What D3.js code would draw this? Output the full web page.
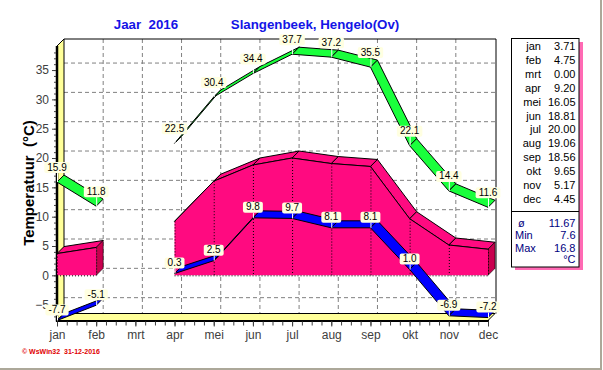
<!DOCTYPE html>
<html>
<head>
<meta charset="utf-8">
<script src="https://cdn.jsdelivr.net/npm/d3@7"></script>
<style>
  body { margin: 0; background: #fff; }
  svg { display: block; font-family: Arial, "Liberation Sans", sans-serif; }
</style>
</head>
<body>
<div id="chart"></div>
<script>
const months = ['jan', 'feb', 'mrt', 'apr', 'mei', 'jun', 'jul', 'aug', 'sep', 'okt', 'nov', 'dec']
const meanTemp = [3.71, 4.75, null, 9.20, 16.05, 18.81, 20.00, 19.06, 18.56, 9.65, 5.17, 4.45]
const maxTemp = [15.9, 11.8, null, 22.5, 30.4, 34.4, 37.7, 37.2, 35.5, 22.1, 14.4, 11.6]
const minTemp = [-7.7, -5.1, null, 0.3, 2.5, 9.8, 9.7, 8.1, 8.1, 1.0, -6.9, -7.2]
const yTicks = [-5, 0, 5, 10, 15, 20, 25, 30, 35]
const statNames = ['ø', 'Min', 'Max']
const statValues = ['11.67', '7.6', '16.8']

const width = 603
const height = 370
const dx = 7, dy = -7

const svg = d3.select('#chart').append('svg')
  .attr('width', width)
  .attr('height', height)

const x = d3.scalePoint().domain(months).range([57, 488])
const xi = d3.scaleLinear().domain([0, 11]).range([57, 488])
const y = d3.scaleLinear().domain([-7.7, 39.1]).range([320.5, 46])
const y0 = y(0)

// outer gray border right / bottom
svg.append('path')
  .attr('d', `M${width - 2},0 V${height - 1} H0`)
  .attr('fill', 'none').attr('stroke', '#aca899').attr('stroke-width', 2)

// titles
svg.append('text').attr('x', 146).attr('y', 29).attr('text-anchor', 'middle')
  .style('font', 'bold 13.3px Arial').style('fill', '#1414e6').attr('xml:space', 'preserve')
  .text('Jaar  2016')
svg.append('text').attr('x', 315).attr('y', 29).attr('text-anchor', 'middle')
  .style('font', 'bold 13.3px Arial').style('fill', '#1414e6')
  .text('Slangenbeek, Hengelo(Ov)')

svg.append('text')
  .attr('transform', 'translate(34,183) rotate(-90)')
  .attr('text-anchor', 'middle')
  .attr('xml:space', 'preserve')
  .style('font', 'bold 15px Arial').style('fill', '#000')
  .text('Temperatuur  (°C)')

svg.append('text').attr('x', 22).attr('y', 354)
  .attr('xml:space', 'preserve')
  .style('font', 'bold 7px Arial').style('fill', '#e00000')
  .text('© WsWin32  31-12-2016')

// back wall grid
const grid = svg.append('g').attr('stroke', '#808080').attr('stroke-dasharray', '4,3')
grid.selectAll('line.h').data(yTicks).enter().append('line')
  .attr('x1', 64).attr('x2', 496)
  .attr('y1', d => y(d) + dy).attr('y2', d => y(d) + dy)
grid.selectAll('line.v').data(months.slice(1, 11)).enter().append('line')
  .attr('x1', d => x(d) + dx).attr('x2', d => x(d) + dx)
  .attr('y1', 39).attr('y2', y(-7.7) + dy)

// frame of back wall
svg.append('path')
  .attr('d', `M64,39 H496 V${y(-7.7) + dy}`)
  .attr('fill', 'none').attr('stroke', '#000')

// left wall and floor
const yb = y(-7.7)
const yt = y(39.1)
svg.append('path')
  .attr('d', `M57,${yb} V${yt} L64,${yt + dy} V${yb + dy} Z`)
  .attr('fill', '#ffff99').attr('stroke', '#000').attr('stroke-width', 1)
svg.append('path')
  .attr('d', `M57,${yb} H488 L495,${yb + dy} H64 Z`)
  .attr('fill', '#ffff99').attr('stroke', '#000').attr('stroke-width', 1)
svg.append('line').attr('x1', 57).attr('x2', 57).attr('y1', yt).attr('y2', yb + 1)
  .attr('stroke', '#000').attr('stroke-width', 2.5)
svg.append('line').attr('x1', 56).attr('x2', 489).attr('y1', yb + 0.5).attr('y2', yb + 0.5)
  .attr('stroke', '#000').attr('stroke-width', 2)

// y axis on front edge
const yAxis = svg.append('g').attr('transform', 'translate(56,0)')
  .call(d3.axisLeft(y).tickValues(yTicks).tickSize(4).tickPadding(3))
yAxis.select('.domain').remove()
yAxis.selectAll('text').style('font', '12px Arial').style('fill', '#404040')
yAxis.selectAll('line').attr('stroke', '#404040')
const yMinor = svg.append('g').attr('transform', 'translate(56,0)')
  .call(d3.axisLeft(y).tickValues(d3.range(-7, 39)).tickSize(2).tickFormat(''))
yMinor.select('.domain').remove()
yMinor.selectAll('line').attr('stroke', '#404040')

// x axis under floor
const xAxis = svg.append('g').attr('transform', `translate(0,${yb + 1})`)
  .call(d3.axisBottom(x).tickSize(5).tickPadding(4))
xAxis.select('.domain').remove()
xAxis.selectAll('text').style('font', '12px Arial').style('fill', '#404040')
xAxis.selectAll('line').attr('stroke', '#404040')
const xMinor = svg.append('g').attr('transform', `translate(0,${yb + 1})`)
  .call(d3.axisBottom(xi).tickValues(d3.range(0, 11.01, 0.25)).tickSize(4).tickFormat(''))
xMinor.select('.domain').remove()
xMinor.selectAll('line').attr('stroke', '#404040')

// split series into runs without gaps
const runs = vals => {
  const out = []
  let cur = []
  vals.forEach((v, i) => {
    if (v === null) { if (cur.length) out.push(cur); cur = [] }
    else cur.push({ m: months[i], v: v })
  })
  if (cur.length) out.push(cur)
  return out
}

// mean temperature: 3D area
const pink = '#ff0a80'
const pinkSide = '#c8004e'
const area = svg.append('g')
runs(meanTemp).forEach(run => {
  const pts = run.map(d => [x(d.m), y(d.v)])
  for (let i = 0; i < pts.length - 1; i++) {
    const a = pts[i], b = pts[i + 1]
    area.append('path')
      .attr('d', `M${a[0]},${a[1]} L${b[0]},${b[1]} L${b[0] + dx},${b[1] + dy} L${a[0] + dx},${a[1] + dy} Z`)
      .attr('fill', pink).attr('stroke', '#000').attr('stroke-width', 1)
  }
  const last = pts[pts.length - 1]
  area.append('path')
    .attr('d', `M${last[0]},${last[1]} L${last[0] + dx},${last[1] + dy} V${y0 + dy} L${last[0]},${y0} Z`)
    .attr('fill', pinkSide).attr('stroke', '#000').attr('stroke-width', 0.6)
  area.append('path')
    .attr('d', `M${pts[0][0]},${y0} ` + pts.map(p => `L${p[0]},${p[1]}`).join(' ') + ` L${last[0]},${y0} Z`)
    .attr('fill', pink)
  area.append('path')
    .attr('d', d3.line()(pts))
    .attr('fill', 'none').attr('stroke', '#000')
  area.selectAll(null).data(pts).enter().append('line')
    .attr('x1', p => p[0] + 0.5).attr('x2', p => p[0] + 0.5)
    .attr('y1', p => p[1]).attr('y2', y0)
    .attr('stroke', '#000').attr('stroke-dasharray', '1,2')
  area.append('line')
    .attr('x1', pts[0][0]).attr('x2', last[0])
    .attr('y1', y0 + 0.5).attr('y2', y0 + 0.5)
    .attr('stroke', '#000').attr('stroke-dasharray', '1,2')
})

// 3D ribbons for max and min
const ribbon = (vals, color) => {
  const g = svg.append('g')
  runs(vals).forEach(run => {
    const pts = run.map(d => [x(d.m), y(d.v)])
    for (let i = 0; i < pts.length - 1; i++) {
      const a = pts[i], b = pts[i + 1]
      g.append('path')
        .attr('d', `M${a[0]},${a[1]} L${b[0]},${b[1]} L${b[0] + dx},${b[1] + dy} L${a[0] + dx},${a[1] + dy} Z`)
        .attr('fill', color).attr('stroke', '#000').attr('stroke-width', 1)
        .attr('stroke-linejoin', 'round')
    }
  })
}
ribbon(maxTemp, '#1aff3c')
ribbon(minTemp, '#0000ff')

// value labels
const labels = (vals, gap) => {
  const g = svg.append('g')
  vals.forEach((v, i) => {
    if (v === null) return
    const px = x(months[i]), py = y(v)
    const bottom = py - gap
    g.append('line')
      .attr('x1', px + 0.5).attr('x2', px + 0.5)
      .attr('y1', bottom).attr('y2', py)
      .attr('stroke', '#fff')
    const t = g.append('text')
      .attr('x', px).attr('y', bottom - 2.5)
      .attr('text-anchor', 'middle')
      .style('font', '10px Arial').style('fill', '#000')
      .text(v.toFixed(1))
    const w = t.node().getComputedTextLength() + 6
    g.insert('rect', 'text')
      .attr('x', px - w / 2).attr('y', bottom - 11)
      .attr('width', w).attr('height', 11)
      .attr('rx', 2)
      .attr('fill', '#ffffe1')
  })
}
labels(maxTemp, 9)
labels(minTemp, 5)

// legend box
const lg = svg.append('g')
lg.append('rect').attr('x', 515).attr('y', 42).attr('width', 68).attr('height', 228)
  .attr('fill', '#ff6ab4')
lg.append('rect').attr('x', 511.5).attr('y', 38.5).attr('width', 67.5).attr('height', 228.5)
  .attr('fill', '#fff').attr('stroke', '#000')
lg.append('line').attr('x1', 511.5).attr('x2', 579).attr('y1', 211.5).attr('y2', 211.5)
  .attr('stroke', '#000')
lg.selectAll('text.name').data(months).enter().append('text')
  .attr('x', 541).attr('y', (_, i) => 50 + i * 13.9)
  .attr('text-anchor', 'end')
  .style('font', '11px Arial').style('fill', '#000')
  .text(d => d)
lg.selectAll('text.val').data(meanTemp).enter().append('text')
  .attr('x', 575.5).attr('y', (_, i) => 50 + i * 13.9)
  .attr('text-anchor', 'end')
  .style('font', '11px Arial').style('fill', '#000')
  .text(d => (d === null ? 0 : d).toFixed(2))
lg.selectAll('text.sn').data(statNames).enter().append('text')
  .attr('x', (_, i) => i === 0 ? 518 : 515).attr('y', (_, i) => 227 + i * 12.4)
  .style('font', '11px Arial').style('fill', '#000080')
  .text(d => d)
lg.selectAll('text.sv').data(statValues).enter().append('text')
  .attr('x', 575.5).attr('y', (_, i) => 227 + i * 12.4)
  .attr('text-anchor', 'end')
  .style('font', '11px Arial').style('fill', '#000080')
  .text(d => d)
lg.append('text').attr('x', 575.5).attr('y', 263).attr('text-anchor', 'end')
  .style('font', '11px Arial').style('fill', '#000080')
  .text('°C')
</script>
</body>
</html>
